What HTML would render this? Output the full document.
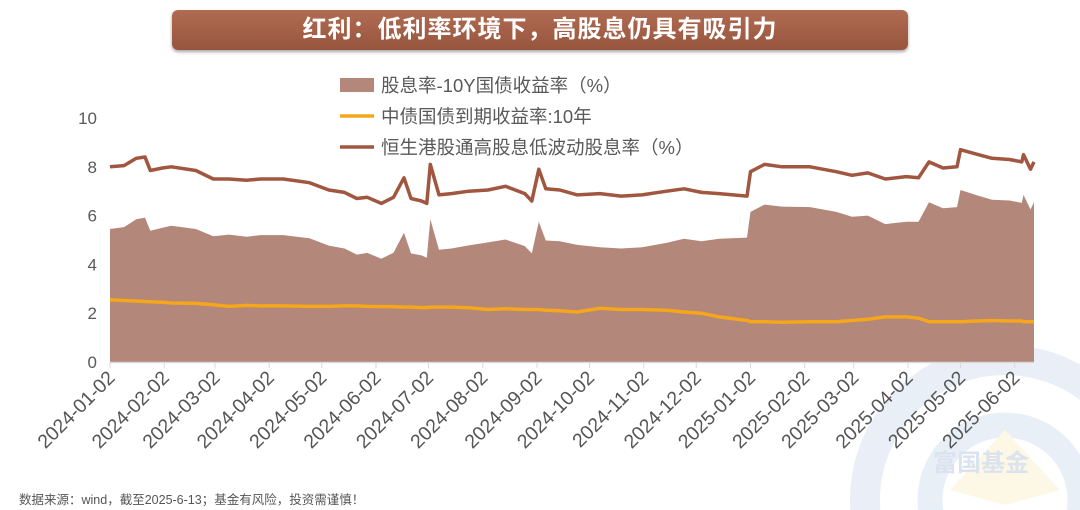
<!DOCTYPE html>
<html><head><meta charset="utf-8">
<style>
html,body{margin:0;padding:0;background:#fff;}
body{width:1080px;height:510px;overflow:hidden;position:relative;font-family:"Liberation Sans","Noto Sans CJK SC",sans-serif;}
#title{position:absolute;left:172px;top:10px;width:736px;height:40px;border-radius:6px;background:linear-gradient(#b06c52,#98553e);box-shadow:0 2px 3px rgba(0,0,0,.35);color:#fff;font-weight:bold;font-size:24px;line-height:40px;text-align:center;letter-spacing:1px;}
#footer{position:absolute;left:19px;top:489px;font-size:12.5px;color:#555;}
svg{position:absolute;left:0;top:0;overflow:hidden;}
</style></head><body>
<svg width="1080" height="510" id="chart">
 <g opacity="0.5">
  <circle cx="1005" cy="500" r="140" fill="none" stroke="#d5e0f0" stroke-width="30"/>
  <circle cx="1005" cy="500" r="75" fill="none" stroke="#d5e0f0" stroke-width="25"/>
  <polygon points="1005,430 1060,490 1005,505 950,490" fill="#fdf0cc"/>
  <text x="933" y="471" font-size="24" font-weight="bold" fill="#b8c8e0" font-family="Liberation Sans, Noto Sans CJK SC, sans-serif">富国基金</text>
 </g>
 <g id="plot"></g>
</svg>
<div id="title">红利：低利率环境下，高股息仍具有吸引力</div>
<div id="footer">数据来源：wind，截至2025-6-13；基金有风险，投资需谨慎！</div>
<script>
const dates=["2024-01-02","2024-01-10","2024-01-17","2024-01-22","2024-01-25","2024-02-01","2024-02-06","2024-02-20","2024-03-01","2024-03-10","2024-03-20","2024-03-28","2024-04-10","2024-04-25","2024-05-06","2024-05-15","2024-05-22","2024-05-28","2024-06-05","2024-06-12","2024-06-18","2024-06-22","2024-06-28","2024-07-01","2024-07-03","2024-07-08","2024-07-15","2024-07-25","2024-08-05","2024-08-15","2024-08-26","2024-08-30","2024-09-03","2024-09-07","2024-09-15","2024-09-25","2024-10-08","2024-10-20","2024-11-01","2024-11-15","2024-11-25","2024-12-05","2024-12-15","2024-12-31","2025-01-02","2025-01-10","2025-01-20","2025-02-05","2025-02-20","2025-03-01","2025-03-10","2025-03-20","2025-04-01","2025-04-08","2025-04-14","2025-04-22","2025-04-30","2025-05-02","2025-05-12","2025-05-20","2025-05-30","2025-06-06","2025-06-07","2025-06-11","2025-06-13"];
const divYield=[8.0,8.05,8.35,8.4,7.85,7.95,8.0,7.85,7.5,7.5,7.45,7.5,7.5,7.35,7.05,6.95,6.7,6.75,6.5,6.75,7.55,6.7,6.6,6.5,8.1,6.85,6.9,7.0,7.05,7.2,6.9,6.6,7.9,7.1,7.05,6.85,6.9,6.8,6.85,7.0,7.1,6.95,6.9,6.8,7.8,8.1,8.0,8.0,7.8,7.65,7.75,7.5,7.6,7.55,8.2,7.95,8.0,8.7,8.5,8.35,8.3,8.2,8.5,7.9,8.2];
const bondYield=[2.55,2.52,2.5,2.48,2.47,2.45,2.42,2.4,2.35,2.28,2.32,2.3,2.3,2.28,2.28,2.3,2.3,2.28,2.27,2.27,2.25,2.25,2.23,2.23,2.25,2.25,2.25,2.22,2.15,2.18,2.15,2.15,2.15,2.12,2.1,2.05,2.2,2.15,2.15,2.12,2.05,2.0,1.85,1.7,1.65,1.65,1.63,1.65,1.65,1.7,1.75,1.85,1.85,1.8,1.65,1.65,1.65,1.65,1.68,1.7,1.68,1.68,1.65,1.65,1.65];
const yTicks=[0,2,4,6,8,10];
const xTickLabels=["2024-01-02","2024-02-02","2024-03-02","2024-04-02","2024-05-02","2024-06-02","2024-07-02","2024-08-02","2024-09-02","2024-10-02","2024-11-02","2024-12-02","2025-01-02","2025-02-02","2025-03-02","2025-04-02","2025-05-02","2025-06-02"];
const legendLabels=["股息率-10Y国债收益率（%）","中债国债到期收益率:10年","恒生港股通高股息低波动股息率（%）"];

const NS="http://www.w3.org/2000/svg";
const t0=Date.parse("2024-01-02"),t1=Date.parse("2025-06-13");
const X0=110,X1=1034,Y0=362,YS=24.4;
function x(d){return X0+(Date.parse(d)-t0)/(t1-t0)*(X1-X0);}
function y(v){return Y0-v*YS;}
const g=document.getElementById('plot');
function mk(tag,a){const e=document.createElementNS(NS,tag);for(const k in a)e.setAttribute(k,a[k]);g.appendChild(e);return e;}

let p="M"+x(dates[0])+","+y(0);
dates.forEach((d,i)=>{p+=" L"+x(d).toFixed(1)+","+y(divYield[i]-bondYield[i]).toFixed(1);});
p+=" L"+x(dates[dates.length-1])+","+y(0)+" Z";
const area=mk('path',{d:p,fill:'#b3877a'});



const ax=mk('line',{x1:X0,y1:Y0+0.5,x2:X1,y2:Y0+0.5,stroke:'#d9d9d9','stroke-width':1.5});


xTickLabels.forEach(d=>{
 const xx=x(d);
 const tk=mk('line',{x1:xx,y1:Y0,x2:xx,y2:Y0+6,stroke:'#d9d9d9','stroke-width':1});
 
 
 const t=mk('text',{x:xx+6,y:Y0+17,'text-anchor':'end','font-size':19.5,fill:'#555',transform:`rotate(-45 ${xx+6} ${Y0+17})`});
 t.textContent=d;
 
 
});
yTicks.forEach(v=>{
 const t=mk('text',{x:97,y:y(v)+6,'text-anchor':'end','font-size':17,fill:'#595959'});
 t.textContent=v;
 
 
});

function line(vals,color,w,name){
 const pts=dates.map((d,i)=>x(d).toFixed(1)+","+y(vals[i]).toFixed(1)).join(" ");
 const l=mk('polyline',{points:pts,fill:'none',stroke:color,'stroke-width':w,'stroke-linejoin':'round'});
 
 
}
line(bondYield,'#f5a61b',3.5,'bond-yield-line');
line(divYield,'#a0563f',3.5,'dividend-yield-line');

const lg=[{type:'rect',c:'#b3877a',yy:85},{type:'line',c:'#f5a61b',yy:116},{type:'line',c:'#a0563f',yy:147}];
lg.forEach((o,i)=>{
 let m;
 if(o.type==='rect') m=mk('rect',{x:340,y:o.yy-7,width:34,height:14,fill:o.c});
 else m=mk('line',{x1:340,y1:o.yy,x2:374,y2:o.yy,stroke:o.c,'stroke-width':3.5});
 
 
 const t=mk('text',{x:381,y:o.yy+7,'font-size':18.5,fill:'#595959'});
 t.textContent=legendLabels[i];
 
 
});
</script>
</body></html>
